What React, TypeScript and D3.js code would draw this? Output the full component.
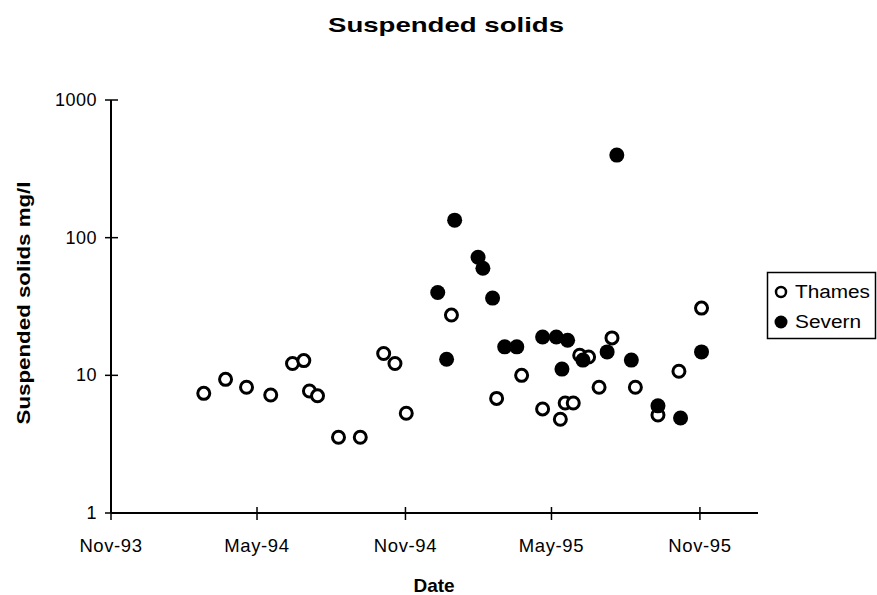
import React from "react";
import * as d3 from "d3";

const thamesDates = [
  "1994-02-24", "1994-03-23", "1994-04-18", "1994-05-18", "1994-06-14", "1994-06-28",
  "1994-07-05", "1994-07-15", "1994-08-10", "1994-09-06", "1994-10-05", "1994-10-19",
  "1994-11-02", "1994-12-28", "1995-02-22", "1995-03-25", "1995-04-20", "1995-05-12",
  "1995-05-18", "1995-05-28", "1995-06-05", "1995-06-16", "1995-06-29", "1995-07-15",
  "1995-08-13", "1995-09-10", "1995-10-06", "1995-11-03",
];
const thamesValues = [
  7.4, 9.35, 8.2, 7.2, 12.2, 12.8,
  7.7, 7.1, 3.55, 3.55, 14.4, 12.2,
  5.3, 27.4, 6.8, 10.0, 5.7, 4.8,
  6.3, 6.3, 14.0, 13.6, 8.2, 18.7,
  8.2, 5.15, 10.7, 30.8,
];

const severnDates = [
  "1994-12-11", "1994-12-22", "1995-01-01", "1995-01-30", "1995-02-05", "1995-02-17",
  "1995-03-04", "1995-03-19", "1995-04-20", "1995-05-07", "1995-05-14", "1995-05-21",
  "1995-06-09", "1995-07-09", "1995-07-21", "1995-08-08", "1995-09-10", "1995-10-08",
  "1995-11-03",
];
const severnValues = [
  40, 13.1, 134, 72, 60, 36.4,
  16.1, 16.1, 19.0, 19.0, 11.1, 18.0,
  12.9, 14.8, 398, 12.9, 6.0, 4.9,
  14.8,
];

const xTickDates = ["1993-11-01", "1994-05-01", "1994-11-01", "1995-05-01", "1995-11-01"];
const xTickLabels = ["Nov-93", "May-94", "Nov-94", "May-95", "Nov-95"];
const yTickValues = [1, 10, 100, 1000];
const yTickLabels = ["1", "10", "100", "1000"];

const parse = d3.timeParse("%Y-%m-%d");
const FONT = "'Liberation Sans', Arial, Helvetica, sans-serif";

export default function App() {
  const W = 877;
  const H = 595;
  const x = d3
    .scaleTime()
    .domain([parse("1993-11-01") as Date, parse("1996-01-12") as Date])
    .range([111, 758]);
  const y = d3.scaleLog().domain([1, 1000]).range([513, 100]);

  const thames = thamesDates.map((d, i) => ({ date: parse(d) as Date, v: thamesValues[i] }));
  const severn = severnDates.map((d, i) => ({ date: parse(d) as Date, v: severnValues[i] }));

  return (
    <div style={{ position: "fixed", left: 0, top: 0 }}>
      <svg width={W} height={H} style={{ display: "block", background: "#fff" }} fontFamily={FONT}>
        <rect x={0} y={0} width={W} height={H} fill="#fff" />
        {/* Title */}
        <text
          x={446}
          y={32}
          textAnchor="middle"
          fontSize={21}
          fontWeight="bold"
          textLength={236}
          lengthAdjust="spacingAndGlyphs"
        >
          Suspended solids
        </text>

        {/* Y axis */}
        <line x1={111} x2={111} y1={y(1000)} y2={y(1)} stroke="#000" strokeWidth={2} />
        {yTickValues.map((t, i) => (
          <g key={"yt" + i}>
            <line x1={105} x2={118} y1={y(t)} y2={y(t)} stroke="#000" strokeWidth={1.5} />
            <text x={97} y={y(t) + 6} textAnchor="end" fontSize={18} letterSpacing={0.5}>
              {yTickLabels[i]}
            </text>
          </g>
        ))}

        {/* X axis */}
        <line x1={x.range()[0]} x2={x.range()[1]} y1={513} y2={513} stroke="#000" strokeWidth={2} />
        {xTickDates.map((d, i) => {
          const px = x(parse(d) as Date);
          return (
            <g key={"xt" + i}>
              <line x1={px} x2={px} y1={507} y2={520} stroke="#000" strokeWidth={1.5} />
              <text x={px} y={552} textAnchor="middle" fontSize={18.5} letterSpacing={0.6}>
                {xTickLabels[i]}
              </text>
            </g>
          );
        })}

        {/* Axis titles */}
        <text x={434} y={592} textAnchor="middle" fontSize={19} fontWeight="bold">
          Date
        </text>
        <text
          transform={`translate(30,303) rotate(-90)`}
          textAnchor="middle"
          fontSize={18}
          fontWeight="bold"
          textLength={243}
          lengthAdjust="spacingAndGlyphs"
        >
          Suspended solids mg/l
        </text>

        {/* Thames points */}
        {thames.map((p, i) => (
          <circle
            key={"t" + i}
            cx={x(p.date)}
            cy={y(p.v)}
            r={6}
            fill="#fff"
            stroke="#000"
            strokeWidth={3}
          />
        ))}
        {/* Severn points */}
        {severn.map((p, i) => (
          <circle key={"s" + i} cx={x(p.date)} cy={y(p.v)} r={7.5} fill="#000" />
        ))}

        {/* Legend */}
        <rect x={767.5} y={272.5} width={108} height={66} fill="#fff" stroke="#000" strokeWidth={1.5} />
        <circle cx={781} cy={292} r={5} fill="#fff" stroke="#000" strokeWidth={2.5} />
        <text x={795} y={298} fontSize={18} textLength={75} lengthAdjust="spacingAndGlyphs">
          Thames
        </text>
        <circle cx={781} cy={322} r={6.5} fill="#000" />
        <text x={795} y={328} fontSize={18} textLength={66} lengthAdjust="spacingAndGlyphs">
          Severn
        </text>
      </svg>
    </div>
  );
}
